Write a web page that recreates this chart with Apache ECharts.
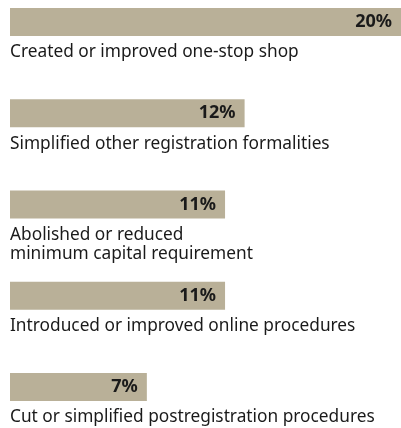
<!DOCTYPE html>
<html>
<head>
<meta charset="utf-8">
<style>html,body{margin:0;padding:0;background:#fff;}#c{width:401px;height:428px;}</style>
<script src="https://cdn.jsdelivr.net/npm/echarts@6/dist/echarts.min.js"></script>
</head>
<body>
<div id="c"></div>
<script>
const categories = [
  "Created or improved one-stop shop",
  "Simplified other registration formalities",
  "Abolished or reduced\nminimum capital requirement",
  "Introduced or improved online procedures",
  "Cut or simplified postregistration procedures"
];
const shares = [20, 12, 11, 11, 7];

const chart = echarts.init(document.getElementById('c'));
chart.setOption({
  animation: false,
  grid: { left: 10, right: -4, top: 22, bottom: 41, containLabel: false },
  xAxis: { type: 'value', min: 0, max: 20, show: false },
  yAxis: {
    type: 'category', data: categories, inverse: true, boundaryGap: false,
    axisLine: { show: false }, axisTick: { show: false }, splitLine: { show: false },
    axisLabel: {
      inside: true, margin: 0, align: 'left', verticalAlign: 'top',
      padding: [21, 0, 0, 0], fontFamily: 'Noto Sans', fontSize: 17.3, lineHeight: 19,
      color: '#1a1a1a'
    }
  },
  series: [{
    type: 'bar', data: shares, barWidth: 28, clip: false,
    itemStyle: { color: '#b9b098' },
    label: {
      show: true, position: 'insideRight', distance: 9,
      formatter: '{c}%', fontFamily: 'Noto Sans', fontWeight: 'bold', fontSize: 18,
      color: '#1a1a1a'
    }
  }]
});
</script>
</body>
</html>
